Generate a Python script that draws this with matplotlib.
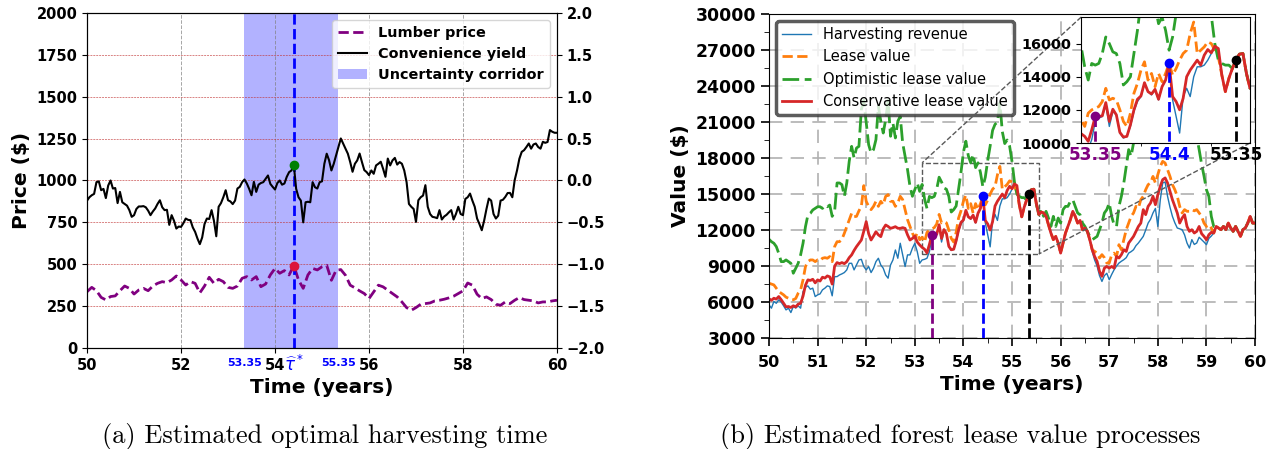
import numpy as np
import matplotlib
matplotlib.use("Agg")
import matplotlib.pyplot as plt
from matplotlib.ticker import MultipleLocator
from mpl_toolkits.axes_grid1.inset_locator import mark_inset

# ---------------- data: panel (a) ----------------
# lumber price ($), sampled every 0.1 year from 50 to 60
lumber_price = [
    336, 362, 342, 302, 287, 307, 311, 342, 370, 356,
    322, 346, 356, 342, 370, 386, 396, 390, 406, 430,
    406, 376, 396, 386, 329, 370, 422, 386, 410, 396,
    362, 356, 370, 416, 426, 406, 426, 366, 382, 436,
    475, 446, 462, 436, 492, 406, 356, 436, 475, 466,
    485, 494, 404, 464, 468, 434, 375, 359, 341, 325,
    295, 335, 375, 365, 345, 325, 305, 275, 241, 225,
    241, 261, 265, 269, 281, 285, 291, 299, 309, 325,
    341, 388, 375, 321, 295, 305, 289, 261, 255, 275,
    265, 285, 301, 289, 285, 281, 269, 275, 275, 281,
    285,
]
# convenience yield, sampled every 0.05 year from 50 to 60
conv_yield = [
    -0.240, -0.200, -0.176, -0.160, -0.020, -0.010, -0.116, -0.100, -0.210, -0.060,
    0.000, -0.096, -0.090, -0.270, -0.136, -0.260, -0.280, -0.300, -0.354, -0.434,
    -0.414, -0.340, -0.310, -0.310, -0.306, -0.320, -0.360, -0.414, -0.370, -0.334,
    -0.280, -0.236, -0.320, -0.354, -0.350, -0.530, -0.414, -0.480, -0.574, -0.550,
    -0.554, -0.510, -0.454, -0.470, -0.474, -0.560, -0.614, -0.694, -0.760, -0.680,
    -0.520, -0.454, -0.460, -0.354, -0.480, -0.666, -0.314, -0.270, -0.200, -0.116,
    -0.236, -0.250, -0.282, -0.240, -0.096, -0.076, -0.020, 0.012, -0.036, -0.100,
    -0.176, -0.016, -0.136, -0.050, -0.030, -0.020, 0.020, 0.060, -0.040, -0.076,
    -0.108, -0.030, 0.000, -0.050, -0.036, 0.044, 0.100, 0.120, 0.184, -0.100,
    -0.200, -0.240, -0.500, -0.260, -0.254, -0.260, -0.020, -0.080, -0.096, -0.020,
    -0.010, 0.200, 0.320, 0.242, 0.120, 0.200, 0.302, 0.400, 0.502, 0.440,
    0.380, 0.320, 0.220, 0.104, 0.200, 0.240, 0.322, 0.220, 0.124, 0.100,
    0.064, 0.120, 0.080, 0.180, 0.200, 0.224, 0.140, 0.044, 0.262, 0.180,
    0.240, 0.270, 0.190, 0.220, 0.200, 0.120, -0.020, -0.280, -0.314, -0.340,
    -0.494, -0.236, -0.200, -0.180, -0.056, -0.314, -0.400, -0.434, -0.440, -0.450,
    -0.354, -0.466, -0.430, -0.410, -0.380, -0.354, -0.466, -0.400, -0.314, -0.400,
    -0.414, -0.220, -0.200, -0.156, -0.240, -0.314, -0.454, -0.520, -0.594, -0.480,
    -0.340, -0.216, -0.240, -0.400, -0.454, -0.420, -0.240, -0.230, -0.196, -0.150,
    -0.148, -0.200, 0.004, 0.120, 0.260, 0.342, 0.362, 0.400, 0.442, 0.380,
    0.430, 0.442, 0.400, 0.380, 0.462, 0.450, 0.460, 0.602, 0.582, 0.570,
    0.570,
]
tau_star = 54.4
corridor = (53.35, 55.35)
left_xticks = [50, 52, 54, 56, 58, 60]

# ---------------- data: panel (b) ----------------
# values ($), sampled every 0.05 year from 50 to 60
harvest_rev = [
    5770, 5490, 6050, 5900, 6190, 6000, 5690, 5350, 5490, 5130,
    5630, 5500, 5690, 5490, 6880, 7240, 7350, 7070, 7160, 6460,
    6600, 6680, 7020, 7160, 7350, 7290, 6520, 8120, 8120, 8260,
    8350, 8460, 8680, 9230, 9230, 8680, 9090, 9510, 9560, 8960,
    8680, 8960, 8460, 8820, 9370, 9650, 9090, 8820, 8260, 7990,
    9090, 9510, 10340, 9650, 10900, 9930, 8960, 9930, 9930, 10480,
    10900, 10200, 9230, 9510, 9560, 9650, 10200, 11300, 11500, 11600,
    12300, 11000, 11900, 11700, 10600, 10300, 10400, 11000, 11900, 12500,
    12800, 13600, 13100, 12900, 13200, 12600, 13400, 13800, 14800, 12600,
    11600, 10600, 12800, 13300, 12800, 14000, 14600, 14600, 14700, 15000,
    15400, 15800, 15700, 14100, 13100, 13900, 14500, 15000, 15360, 15400,
    14200, 13300, 13500, 13420, 13140, 12450, 11750, 11200, 11470, 10920,
    10080, 10920, 11750, 12300, 12860, 13560, 13140, 12580, 12800, 12030,
    12170, 11890, 11190, 10200, 9500, 9000, 8200, 7720, 8200, 8400,
    7860, 8300, 8690, 9000, 9250, 9400, 9530, 9700, 10080, 10200,
    10360, 10700, 10920, 11200, 11470, 12000, 12580, 12900, 13420, 13800,
    12300, 14500, 15920, 16000, 14810, 13900, 13140, 12600, 12170, 12100,
    12030, 11600, 10920, 10500, 11200, 10800, 10920, 11400, 11200, 11000,
    10780, 11300, 11500, 11750, 12300, 12170, 12030, 12300, 12030, 12580,
    12170, 11890, 12300, 11890, 11470, 12030, 12170, 12580, 13140, 12580,
    12580,
]
lease_value = [
    7570, 7500, 7430, 7150, 6880, 6740, 6600, 6410, 6320, 6190,
    6190, 6300, 6740, 7020, 7850, 8960, 9370, 9510, 9510, 9370,
    9510, 9450, 9650, 9700, 9650, 9790, 9370, 10620, 11030, 11030,
    11230, 11730, 12280, 12830, 13390, 13110, 13140, 13600, 13970, 15700,
    14390, 13970, 13700, 13970, 14390, 13970, 14390, 14110, 14810, 14950,
    14390, 14390, 13970, 14250, 14810, 14530, 13700, 12860, 12300, 11750,
    11330, 11750, 11190, 11400, 11000, 11800, 12000, 12100, 12200, 12500,
    13300, 12600, 12700, 12600, 12000, 11300, 11000, 11800, 13000, 13600,
    14400, 14900, 13800, 14200, 13400, 14200, 13700, 14200, 14800, 14100,
    14500, 15000, 15400, 15600, 16600, 17300, 15400, 15600, 15800, 16100,
    16000, 15600, 15200, 14100, 13100, 13900, 14500, 15000, 15360, 15400,
    14200, 13300, 13500, 13420, 13140, 12450, 11750, 11200, 11470, 10920,
    10080, 10920, 11750, 12300, 12860, 13560, 13140, 12580, 12800, 12030,
    12170, 11890, 11190, 10360, 10220, 10080, 9670, 9950, 9700, 9250,
    9250, 9950, 10080, 9800, 10780, 10360, 11190, 12030, 12580, 13140,
    13420, 13970, 13830, 14530, 14810, 15360, 15780, 15920, 16470, 15920,
    16610, 17310, 17720, 17580, 17030, 16470, 15780, 15360, 14810, 13970,
    13420, 13700, 13560, 13560, 13700, 13600, 13700, 13420, 13140, 12580,
    12300, 12440, 12170, 11750, 12300, 12170, 12030, 12300, 12030, 12580,
    12170, 11890, 12300, 11890, 11470, 12030, 12170, 12580, 13140, 12580,
    12580,
]
optimistic_value = [
    11230, 11030, 10900, 10620, 10060, 9370, 9370, 9510, 9370, 9230,
    8400, 8820, 9230, 9930, 10900, 12280, 13250, 13390, 13670, 13800,
    13940, 13940, 13800, 14080, 13940, 14080, 13140, 13560, 15920, 15920,
    15780, 14810, 15920, 17720, 18970, 18000, 18830, 18970, 22030, 22800,
    20920, 19110, 18420, 18700, 19530, 22310, 21060, 20080, 21200, 22800,
    19810, 20920, 19670, 21060, 21470, 19250, 18140, 17030, 15640, 14810,
    15360, 15920, 15220, 15800, 14600, 13800, 14800, 14700, 14800, 15400,
    16400, 16000, 15500, 15400, 14800, 13500, 13700, 14000, 15400, 16800,
    18500, 19400, 18200, 17600, 18300, 17200, 17600, 16800, 15600, 16400,
    17800, 19000, 20300, 20800, 21000, 22600, 20200, 19200, 19500, 19000,
    17700, 16000, 15000, 14800, 14700, 14700, 14500, 15000, 15360, 15400,
    14200, 13300, 13700, 13140, 13560, 13000, 12300, 13140, 12300, 13000,
    12580, 13700, 13970, 13970, 14390, 14530, 13970, 13420, 13280, 12580,
    12300, 11890, 11470, 11190, 11330, 11470, 12030, 12580, 13420, 13700,
    14250, 13140, 12440, 12300, 13970, 14810, 15920, 17310, 18700, 18140,
    19250, 19530, 20640, 21200, 22860, 23500, 24000, 24500, 25000, 24500,
    26000, 27000, 27500, 27000, 26500, 25500, 25000, 24000, 24500, 23500,
    23000, 22500, 22000, 21500, 21000, 20500, 19800, 18700, 17500, 16500,
    15360, 14800, 13140, 12300, 12300, 12170, 12030, 12300, 12030, 12580,
    12170, 11890, 12300, 11890, 11470, 12030, 12170, 12580, 13140, 12580,
    12580,
]
conservative_value = [
    6270, 6150, 6320, 6250, 6460, 6200, 5900, 5600, 5630, 5550,
    5690, 5600, 5830, 5900, 6500, 7400, 7850, 7800, 7900, 7600,
    7850, 7750, 8070, 8000, 8180, 8100, 7500, 9000, 9290, 9200,
    9290, 9200, 9370, 9700, 9930, 10300, 10620, 10900, 11170, 11900,
    12700, 11700, 11170, 11500, 11860, 11600, 11450, 12100, 12420, 12300,
    12140, 12200, 12280, 12150, 12140, 12200, 12140, 11600, 11170, 11300,
    11500, 11000, 10760, 10560, 10400, 10100, 10800, 11600, 11600, 11640,
    12440, 11300, 12040, 11700, 10640, 10360, 10400, 11100, 12000, 12640,
    12840, 13640, 13100, 12960, 13240, 12640, 13400, 13800, 14800, 12800,
    12500, 12000, 12700, 14000, 14400, 14700, 15000, 14700, 15300, 15640,
    15440, 15840, 15700, 14100, 13100, 13900, 14500, 15000, 15360, 15400,
    14200, 13300, 13500, 13420, 13140, 12450, 11750, 11200, 11470, 10920,
    10080, 10920, 11750, 12300, 12860, 13560, 13140, 12580, 12800, 12030,
    12170, 11890, 11190, 10360, 9800, 9390, 8560, 8140, 8830, 8970,
    8830, 8970, 8830, 9800, 9670, 9950, 10360, 10220, 10920, 11190,
    11470, 11890, 12300, 12580, 13700, 13280, 13970, 14250, 14810, 14110,
    14950, 15640, 16200, 16340, 15920, 15220, 14530, 13970, 13420, 12580,
    13000, 13280, 12300, 11890, 12030, 11750, 11890, 12300, 11700, 11470,
    11190, 11610, 11810, 11750, 12300, 12170, 12030, 12300, 12030, 12580,
    12170, 11890, 12300, 11890, 11470, 12030, 12170, 12580, 13140, 12580,
    12580,
]
stop_times = [53.35, 54.4, 55.35]
stop_colors = ["purple", "blue", "black"]
stop_labels = ["53.35", "54.4", "55.35"]

t_lumber = np.linspace(50, 60, len(lumber_price))
t_cy = np.linspace(50, 60, len(conv_yield))
t_val = np.linspace(50, 60, len(conservative_value))

BOLD = dict(fontweight="bold")

fig = plt.figure(figsize=(12.69, 4.49), dpi=100)

# ================= panel (a) =================
ax1 = fig.add_axes([0.0686, 0.225, 0.3703, 0.746])
ax2 = ax1.twinx()

span = ax1.axvspan(*corridor, color="blue", alpha=0.3, lw=0, label="Uncertainty corridor")
ax1.grid(axis="x", color="gray", ls="--", lw=0.7, alpha=0.7)
ax1.grid(axis="y", color="#c03030", ls=(0, (2, 1)), lw=0.7, alpha=0.6)
l_lumber, = ax1.plot(t_lumber, lumber_price, color="purple", ls="--", lw=2, label="Lumber price")
ax1.axvline(tau_star, color="blue", ls="--", lw=2)
i_l = int(np.argmin(np.abs(t_lumber - tau_star)))
ax1.plot(t_lumber[i_l], lumber_price[i_l], "o", color="crimson", ms=6, zorder=5)

l_cy, = ax2.plot(t_cy, conv_yield, color="black", lw=1.5, label="Convenience yield")
i_c = int(np.argmin(np.abs(t_cy - tau_star)))
ax2.plot(t_cy[i_c], conv_yield[i_c], "o", color="green", ms=6, zorder=5)

ax1.set_xlim(50, 60)
ax1.set_ylim(0, 2000)
ax2.set_ylim(-2, 2)
ax1.set_xticks(left_xticks)
ax1.set_yticks(np.arange(0, 2001, 250))
ax2.set_yticks(np.arange(-2, 2.01, 0.5))
for a in (ax1, ax2):
    for lab in a.get_xticklabels() + a.get_yticklabels():
        lab.set_fontweight("bold")
        lab.set_fontsize(10.5)
ax1.set_xlabel("Time (years)", fontsize=14.5, **BOLD)
ax1.set_ylabel(r"Price (\$)", fontsize=14.5, **BOLD)

xt = ax1.get_xaxis_transform()
for x in corridor:
    ax1.text(x, -0.046, f"{x:.2f}", transform=xt, ha="center", va="center",
             color="blue", fontsize=8, **BOLD)
ax1.text(tau_star, -0.05, r"$\widehat{\tau}^*$", transform=xt, ha="center", va="center",
         color="blue", fontsize=12)

leg1 = ax2.legend([l_lumber, l_cy, span],
                  ["Lumber price", "Convenience yield", "Uncertainty corridor"],
                  loc="upper right", prop=dict(weight="bold", size=10.4))

# ================= panel (b) =================
ax3 = fig.add_axes([0.606, 0.247, 0.383, 0.722])


def draw_series(a):
    a.plot(t_val, harvest_rev, color="tab:blue", lw=1.0, label="Harvesting revenue")
    a.plot(t_val, lease_value, color="tab:orange", ls="--", lw=2, label="Lease value")
    a.plot(t_val, optimistic_value, color="tab:green", ls=(0, (6, 2)), lw=2,
           label="Optimistic lease value")
    a.plot(t_val, conservative_value, color="tab:red", lw=2, label="Conservative lease value")
    for ts, c in zip(stop_times, stop_colors):
        i = int(np.argmin(np.abs(t_val - ts)))
        a.vlines(t_val[i], 3000, conservative_value[i], color=c, ls="--", lw=2, zorder=4)
        a.plot(t_val[i], conservative_value[i], "o", color=c, ms=6, zorder=5)


draw_series(ax3)
ax3.set_xlim(50, 60)
ax3.set_ylim(3000, 30000)
ax3.set_xticks(np.arange(50, 61, 1))
ax3.set_yticks(np.arange(3000, 30001, 3000))
ax3.xaxis.set_minor_locator(MultipleLocator(0.5))
ax3.yaxis.set_minor_locator(MultipleLocator(1500))
ax3.grid(which="major", color="#b0b0b0", ls=(0, (8, 5)), lw=1.2)
ax3.tick_params(axis="both", which="major", length=6, width=1.2)
ax3.tick_params(axis="both", which="minor", length=3.5)
ax3.tick_params(axis="x", pad=6)
for lab in ax3.get_xticklabels():
    lab.set_fontweight("bold")
    lab.set_fontsize(11.5)
for lab in ax3.get_yticklabels():
    lab.set_fontweight("bold")
    lab.set_fontsize(12.4)
ax3.set_xlabel("Time (years)", fontsize=14.5, **BOLD)
ax3.set_ylabel(r"Value (\$)", fontsize=14.5, **BOLD)

leg3 = ax3.legend(loc="upper left", fontsize=10.5)
leg3.get_frame().set_linewidth(2.5)
leg3.get_frame().set_edgecolor("#333333")
leg3.set_zorder(10)

# inset
axins = fig.add_axes([0.852, 0.6815, 0.133, 0.2805])
draw_series(axins)
axins.set_xlim(53.15, 55.55)
axins.set_ylim(10000, 17600)
axins.set_yticks(np.arange(10000, 16001, 2000))
axins.set_xticks(stop_times)
axins.set_xticklabels(stop_labels)
axins.xaxis.set_minor_locator(MultipleLocator(1.0))
axins.tick_params(axis="x", which="major", length=0, pad=2)
for lab, c in zip(axins.get_xticklabels(), stop_colors):
    lab.set_color(c)
    lab.set_fontweight("bold")
    lab.set_fontsize(12.2)
for lab in axins.get_yticklabels():
    lab.set_fontweight("bold")
    lab.set_fontsize(10.4)
mark_inset(ax3, axins, loc1=2, loc2=4, fc="none", ec="0.35", ls="--", lw=1)

# captions
fig.text(0.256, 0.027, "(a) Estimated optimal harvesting time", family="cmr10",
         fontsize=19, ha="center", va="center")
fig.text(0.757, 0.027, "(b) Estimated forest lease value processes", family="cmr10",
         fontsize=19, ha="center", va="center")

fig.savefig("out.png", dpi=100)
